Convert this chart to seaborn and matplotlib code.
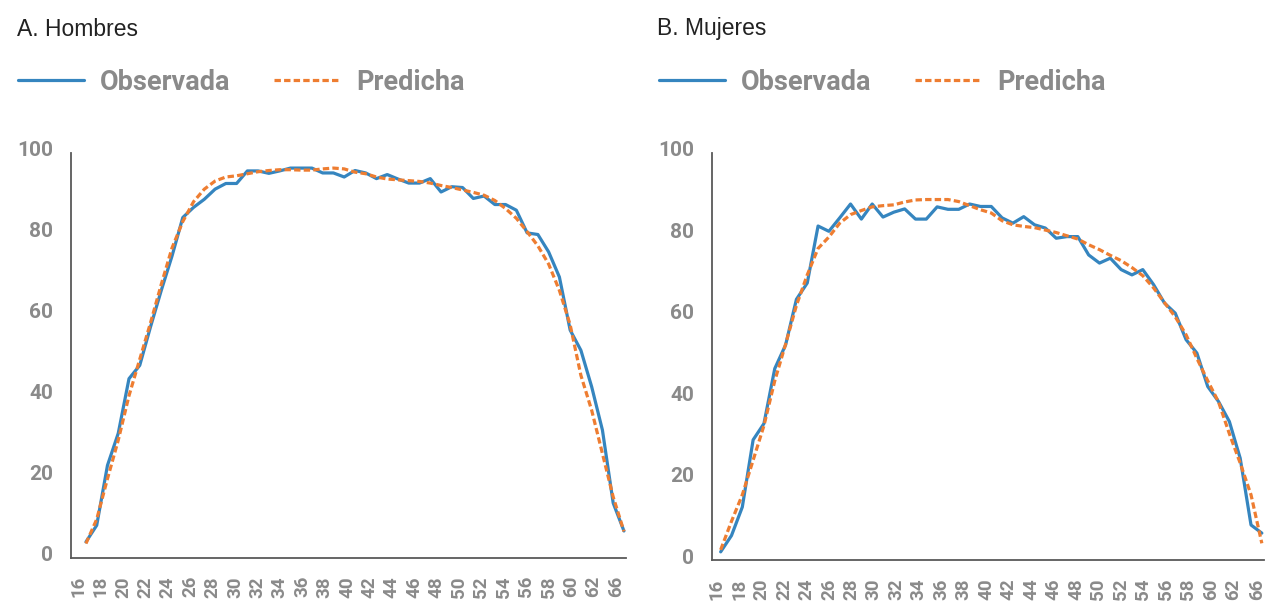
import numpy as np
import pandas as pd
import matplotlib
matplotlib.use("Agg")
import matplotlib.pyplot as plt
import matplotlib.transforms as mtransforms
import seaborn as sns

# ---------------- data ----------------
ages = list(range(16, 67))
hombres_obs = [3.9, 8.0, 22.8, 30.7, 44.2, 47.5, 57.0, 66.0, 74.5, 84.0,
               86.5, 88.5, 91.0, 92.4, 92.4, 95.5, 95.5, 94.9, 95.5, 96.2,
               96.2, 96.2, 95.0, 95.0, 94.0, 95.6, 95.0, 93.6, 94.6, 93.5,
               92.5, 92.5, 93.6, 90.3, 91.6, 91.4, 88.7, 89.3, 87.2, 87.2,
               85.8, 80.2, 79.8, 75.5, 69.3, 56.2, 51.2, 42.2, 31.5, 13.5, 6.6]
hombres_pred = [3.5, 9.5, 19.5, 29.0, 40.0, 49.0, 58.0, 67.5, 76.5, 83.0,
                87.9, 91.0, 93.0, 94.0, 94.3, 94.8, 95.3, 95.6, 95.8, 95.8,
                95.7, 95.7, 96.0, 96.2, 96.0, 95.2, 94.8, 94.0, 93.5, 93.3,
                93.1, 92.9, 92.5, 91.9, 91.4, 90.8, 90.2, 89.5, 88.2, 86.2,
                83.8, 80.5, 77.0, 72.5, 66.0, 57.5, 45.0, 36.4, 25.7, 15.0, 6.5]
mujeres_obs = [2.0, 6.0, 13.0, 29.5, 33.5, 47.0, 52.8, 64.0, 68.0, 82.0,
               80.7, 84.0, 87.4, 83.7, 87.4, 84.2, 85.4, 86.2, 83.7, 83.7,
               86.7, 86.1, 86.1, 87.4, 86.8, 86.8, 84.0, 82.7, 84.3, 82.3,
               81.5, 79.0, 79.4, 79.4, 74.9, 72.9, 74.1, 71.3, 70.0, 71.3,
               67.6, 63.1, 60.6, 54.1, 50.8, 42.6, 38.9, 34.0, 25.0, 8.6, 6.6]
mujeres_pred = [2.5, 9.5, 16.0, 24.5, 33.0, 44.0, 53.0, 62.5, 70.0, 76.5,
                79.3, 82.7, 84.8, 85.8, 86.7, 87.0, 87.2, 87.9, 88.4, 88.5,
                88.5, 88.5, 88.0, 87.0, 86.0, 85.2, 83.3, 82.3, 81.9, 81.6,
                81.0, 80.4, 79.6, 78.8, 77.4, 76.2, 74.8, 73.5, 71.8, 69.8,
                66.8, 63.2, 59.7, 55.3, 49.5, 44.0, 38.8, 31.0, 23.8, 16.0, 4.1]
tick_labels = [str(a) for a in range(16, 63, 2)] + ["66"]
y_ticks = [0, 20, 40, 60, 80, 100]
series_names = ["Observada", "Predicha"]
titles = ["A. Hombres", "B. Mujeres"]

# ---------------- style ----------------
sns.set_style("white")
plt.rcParams['font.family'] = ['Roboto', 'DejaVu Sans']

BLUE = "#3585BF"
ORANGE = "#EE7D31"
GRAY = "#8A8A8A"
SPINE = "#595959"

W, H = 1267, 601
fig = plt.figure(figsize=(W / 100, H / 100), dpi=100)

panels = [
    dict(obs=hombres_obs, pred=hombres_pred, rect=(71, 626, 152.7, 557.7),
         xlim=(14.61, 66.19), tstart=15.28, tstep=2.082, tlast=65.26,
         title_x=17, leg_x=18),
    dict(obs=mujeres_obs, pred=mujeres_pred, rect=(712, 1264, 152.7, 560),
         xlim=(15.2, 66.2), tstart=15.63, tstep=2.075, tlast=65.54,
         title_x=657, leg_x=659),
]

yshift = mtransforms.ScaledTranslation(0, 4 / 100, fig.dpi_scale_trans)

for p, title in zip(panels, titles):
    l, r, t, b = p["rect"]
    ax = fig.add_axes([l / W, 1 - b / H, (r - l) / W, (b - t) / H])
    df = pd.DataFrame({
        "Edad": ages * 2,
        "Tasa": p["obs"] + p["pred"],
        "Serie": [series_names[0]] * len(ages) + [series_names[1]] * len(ages),
    })
    sns.lineplot(data=df[df.Serie == series_names[0]], x="Edad", y="Tasa",
                 color=BLUE, linewidth=2.3, label=series_names[0], ax=ax)
    sns.lineplot(data=df[df.Serie == series_names[1]], x="Edad", y="Tasa",
                 color=ORANGE, linewidth=2.3, linestyle=(0, (2.0, 1.0)),
                 label=series_names[1], ax=ax)
    ax.set_xlim(*p["xlim"])
    ax.set_ylim(0, 100)
    xt = [p["tstart"] + p["tstep"] * j for j in range(len(tick_labels) - 1)] + [p["tlast"]]
    ax.set_xticks(xt)
    ax.set_xticklabels(tick_labels, rotation=90)
    ax.set_yticks(y_ticks)
    ax.set_yticklabels([str(v) for v in y_ticks])
    ax.set_xlabel("")
    ax.set_ylabel("")
    ax.tick_params(axis="x", length=0, pad=13.2)
    ax.tick_params(axis="y", length=0, pad=12.6)
    for lab in ax.get_xticklabels():
        lab.set_fontweight("bold")
        lab.set_fontsize(13.5)
        lab.set_color(GRAY)
    for lab in ax.get_yticklabels():
        lab.set_fontweight("bold")
        lab.set_fontsize(15)
        lab.set_color(GRAY)
        lab.set_transform(lab.get_transform() + yshift)
    sns.despine(ax=ax)
    for s in ("left", "bottom"):
        ax.spines[s].set_color(SPINE)
        ax.spines[s].set_linewidth(1.3)
    handles, labels = ax.get_legend_handles_labels()
    leg = ax.legend(handles, labels, loc="center left",
                    bbox_to_anchor=(p["leg_x"] / W, 1 - 82 / H),
                    bbox_transform=fig.transFigure, ncol=2, frameon=False,
                    handlelength=2.45, handletextpad=0.58, columnspacing=1.6,
                    borderpad=0, borderaxespad=0,
                    prop=dict(family="Roboto", weight="bold", size=19.5))
    for txt in leg.get_texts():
        txt.set_color(GRAY)
    fig.text(p["title_x"] / W, 1 - 29 / H, title, ha="left", va="center",
             fontsize=16.5, color="#222222", family=["Liberation Sans", "DejaVu Sans"])

fig.savefig("out.png", dpi=100, facecolor="white")
